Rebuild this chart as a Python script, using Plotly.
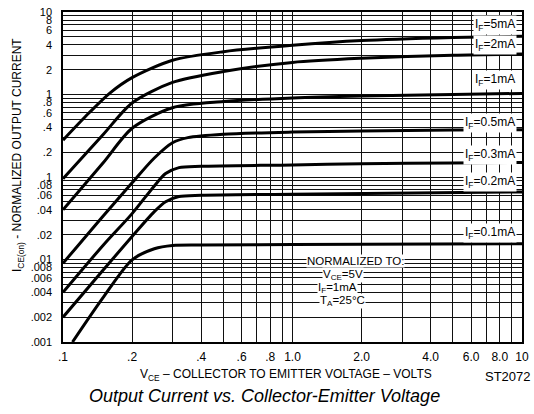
import plotly.graph_objects as go

# ---- data (log-log chart) ----
x_5mA = [0.1, 0.13, 0.16, 0.2, 0.3, 0.5, 1, 2, 5, 10]
y_5mA = [0.28, 0.6, 1.04, 1.6, 2.6, 3.3, 3.95, 4.5, 4.9, 5.1]

x_2mA = [0.1, 0.15, 0.2, 0.3, 0.5, 1, 2, 5, 10]
y_2mA = [0.095, 0.33, 0.79, 1.4, 1.9, 2.45, 2.75, 3.0, 3.1]

x_1mA = [0.1, 0.15, 0.2, 0.3, 0.5, 1, 2, 5, 10]
y_1mA = [0.04, 0.15, 0.39, 0.69, 0.82, 0.91, 0.96, 1.0, 1.03]

x_05mA = [0.1, 0.15, 0.2, 0.25, 0.3, 0.35, 0.5, 1, 2, 5, 10]
y_05mA = [0.009, 0.034, 0.085, 0.17, 0.26, 0.30, 0.33, 0.35, 0.36, 0.37, 0.375]

x_03mA = [0.1, 0.15, 0.2, 0.25, 0.28, 0.32, 0.4, 1, 2, 5, 10]
y_03mA = [0.004, 0.015, 0.036, 0.078, 0.11, 0.13, 0.135, 0.14, 0.145, 0.148, 0.15]

x_02mA = [0.1, 0.15, 0.2, 0.25, 0.28, 0.32, 0.4, 1, 10]
y_02mA = [0.002, 0.0075, 0.019, 0.038, 0.05, 0.058, 0.06, 0.062, 0.066]

x_01mA = [0.11, 0.15, 0.2, 0.25, 0.3, 0.4, 1, 10]
y_01mA = [0.001, 0.0035, 0.0099, 0.0135, 0.0148, 0.015, 0.0152, 0.0155]

curves = [
    (x_5mA, y_5mA), (x_2mA, y_2mA), (x_1mA, y_1mA), (x_05mA, y_05mA),
    (x_03mA, y_03mA), (x_02mA, y_02mA), (x_01mA, y_01mA),
]

curve_labels = ["I<sub>F</sub>=5mA", "I<sub>F</sub>=2mA", "I<sub>F</sub>=1mA",
                "I<sub>F</sub>=0.5mA", "I<sub>F</sub>=0.3mA", "I<sub>F</sub>=0.2mA",
                "I<sub>F</sub>=0.1mA"]

# labelled ticks
x_ticks = [0.1, 0.2, 0.4, 0.6, 0.8, 1, 2, 4, 6, 8, 10]
x_text = [".1", ".2", ".4", ".6", ".8", "1.0", "2.0", "4.0", "6.0", "8.0", "10"]
y_ticks = [0.001, 0.002, 0.004, 0.006, 0.008, 0.01, 0.02, 0.04, 0.06, 0.08,
           0.1, 0.2, 0.4, 0.6, 0.8, 1, 2, 4, 6, 8, 10]
y_text = [".001", ".002", ".004", ".006", ".008", ".01", ".02", ".04", ".06", ".08",
          ".1", ".2", ".4", ".6", ".8", "1", "2", "4", "6", "8", "10"]
# unlabelled grid lines
x_minor = [0.3, 0.5, 0.7, 0.9, 3, 5, 7, 9]
y_minor = [0.003, 0.005, 0.007, 0.009, 0.03, 0.05, 0.07, 0.09,
           0.3, 0.5, 0.7, 0.9, 3, 5, 7, 9]

# ---- layout geometry (pixels) ----
W, H = 534, 414
L, R, T, B = 63, 12, 12, 72
PW, PH = W - L - R, H - T - B

def px(xp):
    return (xp - L) / PW

def py(yp):
    return (H - B - yp) / PH

FONT = "Arial, Liberation Sans, Helvetica, sans-serif"

fig = go.Figure()
for cx, cy in curves:
    fig.add_trace(go.Scatter(x=cx, y=cy, mode="lines",
                             line=dict(color="black", width=3, shape="spline", smoothing=0.8),
                             showlegend=False, hoverinfo="skip"))

label_py = [25, 45, 80, 123, 155, 182, 233]
annotations = []
for txt, yp in zip(curve_labels, label_py):
    annotations.append(dict(text=txt, x=px(517), y=py(yp), xref="paper", yref="paper",
                            xanchor="right", yanchor="middle", showarrow=False,
                            font=dict(family=FONT, size=12, color="black"),
                            bgcolor="white", borderpad=1))

norm_lines = [("NORMALIZED TO:", 355, 261), ("V<sub>CE</sub>=5V", 343, 275),
              ("I<sub>F</sub>=1mA", 337, 288), ("T<sub>A</sub>=25°C", 342, 301)]
for txt, xp, yp in norm_lines:
    annotations.append(dict(text=txt, x=px(xp), y=py(yp), xref="paper", yref="paper",
                            xanchor="center", yanchor="middle", showarrow=False,
                            font=dict(family=FONT, size=11.5, color="black"),
                            bgcolor="white", borderpad=0))

annotations.append(dict(text="I<sub>CE(on)</sub> - NORMALIZED OUTPUT CURRENT",
                        x=px(18), y=py(155), xref="paper", yref="paper",
                        textangle=-90, showarrow=False, xanchor="center", yanchor="middle",
                        font=dict(family=FONT, size=12, color="black")))
annotations.append(dict(text="V<sub>CE</sub> – COLLECTOR TO EMITTER VOLTAGE – VOLTS",
                        x=px(286), y=py(375), xref="paper", yref="paper",
                        showarrow=False, xanchor="center", yanchor="middle",
                        font=dict(family=FONT, size=12, color="black")))
annotations.append(dict(text="ST2072", x=px(533), y=py(377), xref="paper", yref="paper",
                        showarrow=False, xanchor="right", yanchor="middle",
                        font=dict(family=FONT, size=13, color="black")))
annotations.append(dict(text="<i>Output Current vs. Collector-Emitter Voltage</i>",
                        x=px(264), y=py(396), xref="paper", yref="paper",
                        showarrow=False, xanchor="center", yanchor="middle",
                        font=dict(family=FONT, size=18, color="black")))

grid_style = dict(showgrid=True, gridcolor="#111", gridwidth=1.2)

fig.update_layout(
    width=W, height=H, margin=dict(l=L, r=R, t=T, b=B, autoexpand=False),
    paper_bgcolor="white", plot_bgcolor="white",
    annotations=annotations,
    xaxis=dict(type="log", range=[-1, 1], tickvals=x_ticks, ticktext=x_text,
               ticks="", **grid_style,
               minor=dict(tickvals=x_minor, ticks="", **grid_style),
               showline=True, linecolor="black", linewidth=1.5, mirror=True,
               tickfont=dict(family=FONT, size=12, color="black"), zeroline=False,
               ticklabelstandoff=3),
    yaxis=dict(type="log", range=[-3, 1], tickvals=y_ticks, ticktext=y_text,
               ticks="", **grid_style,
               minor=dict(tickvals=y_minor, ticks="", **grid_style),
               showline=True, linecolor="black", linewidth=1.5, mirror=True,
               tickfont=dict(family=FONT, size=11, color="black"), zeroline=False,
               ticklabelstandoff=7),
)

fig.write_html("out.html", config={"displayModeBar": False},
               post_script="document.body.style.margin='0';document.body.style.padding='0';")
